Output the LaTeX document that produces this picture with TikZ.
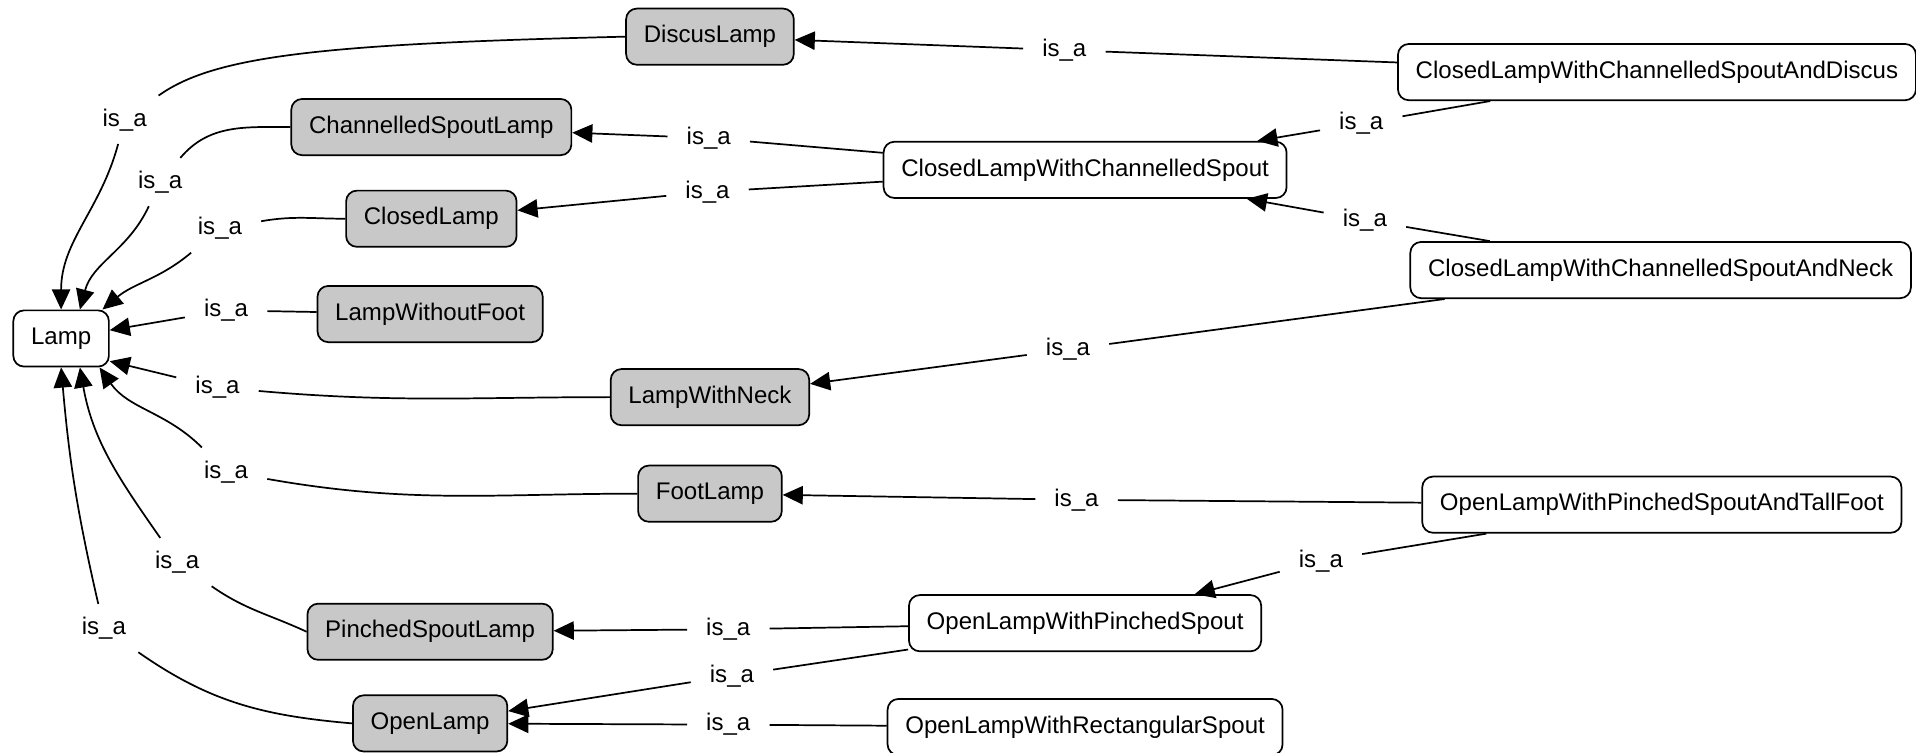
\documentclass[tikz,border=0pt]{standalone}
\usepackage{fontspec}
\setmainfont{Liberation Sans}
\usetikzlibrary{arrows.meta}
\definecolor{basegray}{RGB}{200,200,200}

\begin{document}
\begin{tikzpicture}[x=0.02cm,y=0.02cm,line width=0.8pt,
  >={Triangle[length=0.33cm,width=0.3cm]},
  every node/.style={font=\fontsize{11.2}{13.4}\selectfont},
  lampclass/.style={draw,rounded corners=5pt,minimum height=0.92cm,inner xsep=0.29cm},
  baseclass/.style={lampclass,fill=basegray},
  isa/.style={inner xsep=0.3cm,inner ysep=0.2cm}]
\useasboundingbox (0,0) rectangle (1568,-616);
% classes
\node[lampclass] (lamp) at (50,-277) {Lamp};
\node[baseclass] (discus) at (581,-30) {DiscusLamp};
\node[baseclass] (chspout) at (353,-104) {ChannelledSpoutLamp};
\node[baseclass] (closed) at (353,-179) {ClosedLamp};
\node[baseclass] (nofoot) at (352,-257) {LampWithoutFoot};
\node[baseclass] (neck) at (581,-325) {LampWithNeck};
\node[baseclass] (foot) at (581,-404) {FootLamp};
\node[baseclass] (pinched) at (352,-517) {PinchedSpoutLamp};
\node[baseclass] (open) at (352,-592) {OpenLamp};
\node[lampclass] (cdiscus) at (1356,-59) {ClosedLampWithChannelledSpoutAndDiscus};
\node[lampclass] (cchspout) at (888,-139) {ClosedLampWithChannelledSpout};
\node[lampclass] (cneck) at (1359,-221) {ClosedLampWithChannelledSpoutAndNeck};
\node[lampclass] (otallfoot) at (1360,-413) {OpenLampWithPinchedSpoutAndTallFoot};
\node[lampclass] (opinched) at (888,-510) {OpenLampWithPinchedSpout};
\node[lampclass] (orect) at (888,-595) {OpenLampWithRectangularSpout};
% relation labels
\node[isa] (isa1) at (102,-98) {is\_a};
\node[isa] (isa2) at (131,-149) {is\_a};
\node[isa] (isa3) at (180,-187) {is\_a};
\node[isa] (isa4) at (185,-254) {is\_a};
\node[isa] (isa5) at (178,-317) {is\_a};
\node[isa] (isa6) at (185,-386) {is\_a};
\node[isa] (isa7) at (145,-460) {is\_a};
\node[isa] (isa8) at (85,-514) {is\_a};
\node[isa] (isa9) at (871,-41) {is\_a};
\node[isa] (isa10) at (1114,-101) {is\_a};
\node[isa] (isa11) at (580,-113) {is\_a};
\node[isa] (isa12) at (579,-157) {is\_a};
\node[isa] (isa13) at (1117,-180) {is\_a};
\node[isa] (isa14) at (874,-286) {is\_a};
\node[isa] (isa15) at (881,-409) {is\_a};
\node[isa] (isa16) at (1081,-459) {is\_a};
\node[isa] (isa17) at (596,-515) {is\_a};
\node[isa] (isa18) at (599,-553) {is\_a};
\node[isa] (isa19) at (596,-593) {is\_a};
% edges into Lamp
\draw (discus.west) .. controls (260,-36) and (175,-46) .. (isa1);
\draw[->] (isa1) to[out=-105,in=90] (lamp.north);
\draw (chspout.west) to[out=180,in=50] (isa2);
\draw[->] (isa2) to[out=-115,in=75] (lamp.57);
\draw (closed.west) to[out=180,in=10] (isa3);
\draw[->] (isa3) to[out=-140,in=40] (lamp.35);
\draw (nofoot) -- (isa4);
\draw[->] (isa4) -- (lamp);
\draw (neck.west) to[out=180,in=-5] (isa5);
\draw[->] (isa5) -- (lamp.-25);
\draw (foot.west) to[out=180,in=-10] (isa6);
\draw[->] (isa6) to[out=135,in=-55] (lamp.-37);
\draw (pinched.west) to[out=155,in=-35] (isa7);
\draw[->] (isa7) to[out=125,in=-80] (lamp.-57);
\draw (open.west) to[out=175,in=-35] (isa8);
\draw[->] (isa8) to[out=103,in=-85] (lamp.south);
% edges between the other classes
\draw (cdiscus) -- (isa9);
\draw[->] (isa9) -- (discus);
\draw (cdiscus) -- (isa10);
\draw[->] (isa10) -- (cchspout);
\draw (cchspout) -- (isa11);
\draw[->] (isa11) -- (chspout);
\draw (cchspout) -- (isa12);
\draw[->] (isa12) -- (closed);
\draw (cneck) -- (isa13);
\draw[->] (isa13) -- (cchspout);
\draw (cneck) -- (isa14);
\draw[->] (isa14) -- (neck);
\draw (otallfoot) -- (isa15);
\draw[->] (isa15) -- (foot);
\draw (otallfoot) -- (isa16);
\draw[->] (isa16) -- (opinched);
\draw (opinched) -- (isa17);
\draw[->] (isa17) -- (pinched);
\draw (opinched) -- (isa18);
\draw[->] (isa18) -- (open);
\draw (orect) -- (isa19);
\draw[->] (isa19) -- (open);
\end{tikzpicture}
\end{document}
